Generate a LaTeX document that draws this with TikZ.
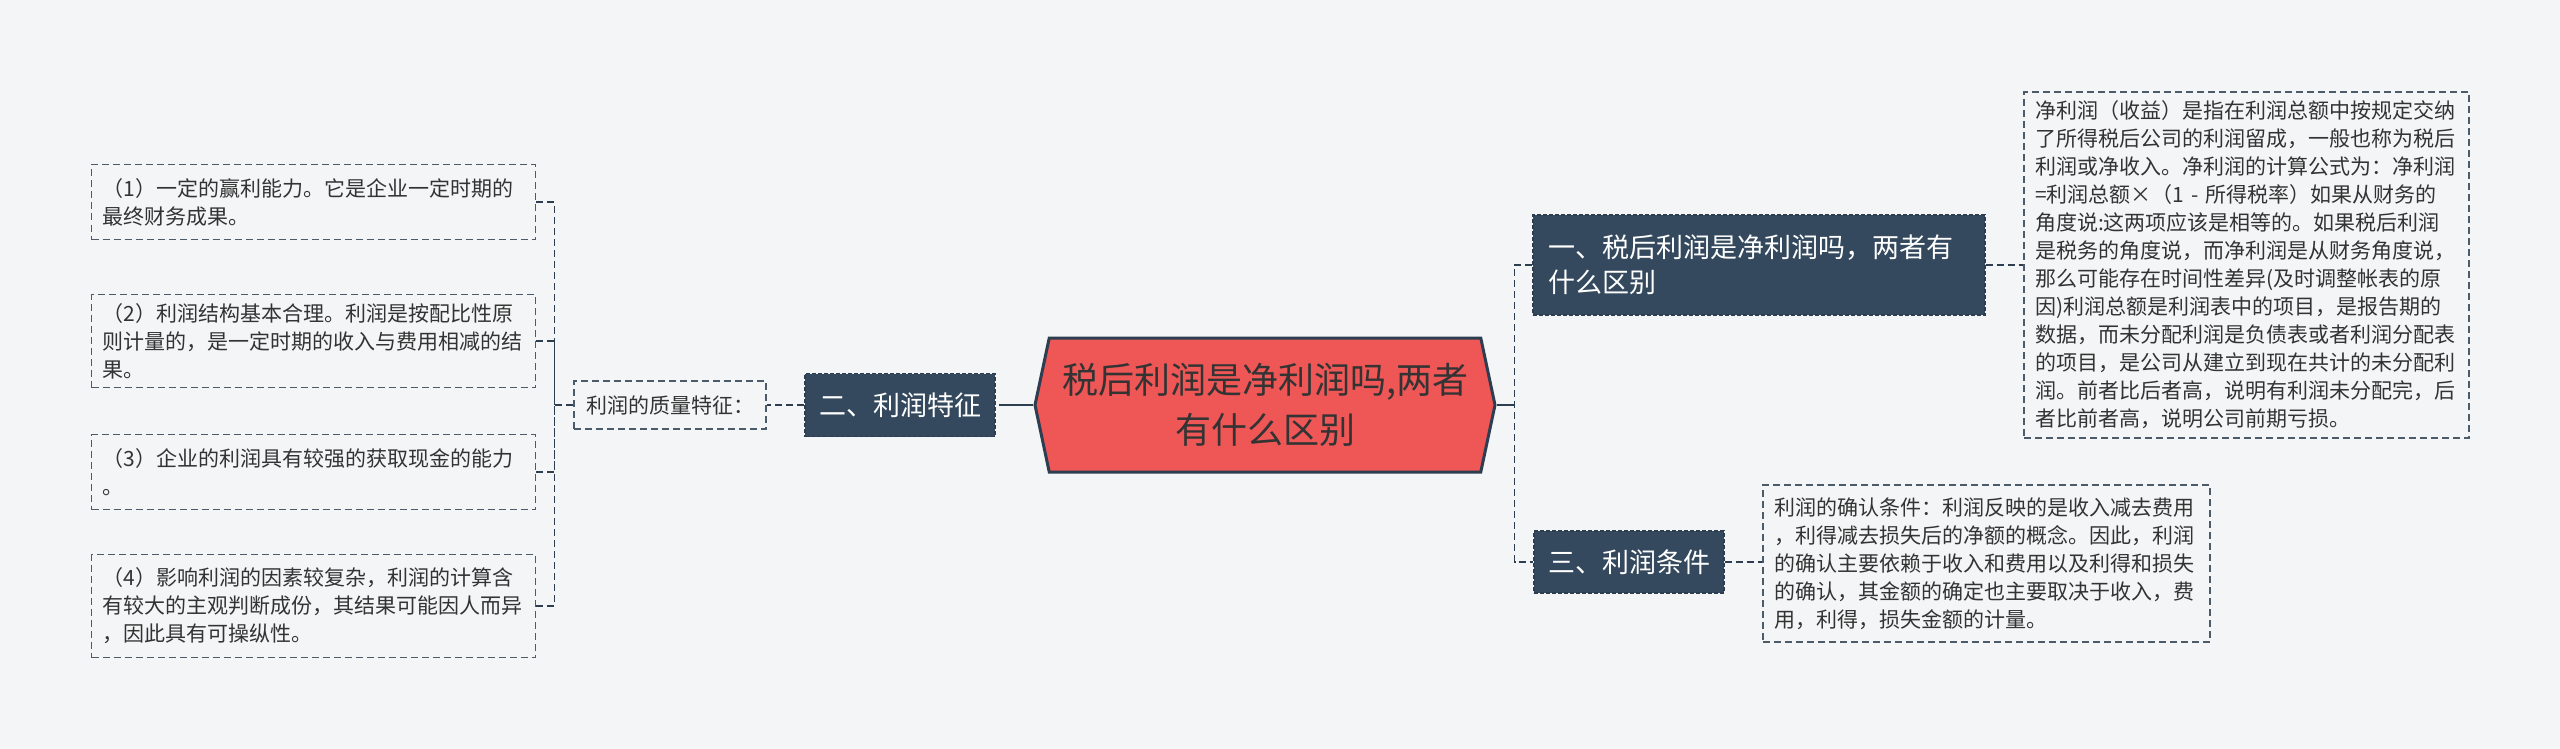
\documentclass[tikz,border=0pt]{standalone}
\usepackage{fontspec}
\setmainfont{Noto Sans CJK SC}
\usetikzlibrary{shapes.symbols}
\definecolor{bgcol}{HTML}{F4F5F6}
\definecolor{rootred}{HTML}{EF5656}
\definecolor{slate}{HTML}{34495E}
\definecolor{edge}{HTML}{2D3E50}
\definecolor{inkgray}{HTML}{333333}

\begin{document}
\begin{tikzpicture}[x=0.5pt, y=-0.5pt,
  rootnode/.style={shape=signal, signal to=west and east, signal pointer angle=156,
    fill=rootred, draw=edge, line width=1.5pt, minimum width=230pt, minimum height=67pt,
    align=center, text=inkgray, font=\fontsize{18}{25}\selectfont},
  branch/.style={fill=slate, draw=edge, dash pattern=on 2pt off 1pt, line width=0.6pt,
    text=white, font=\fontsize{13.5}{17.5}\selectfont, inner sep=0pt},
  leaf/.style={draw=edge!85, dash pattern=on 3.5pt off 2pt, line width=0.7pt, align=left,
    text=inkgray, font=\fontsize{10.5}{14}\selectfont, inner xsep=5.5pt, inner ysep=0pt},
  link/.style={draw=edge, line width=1.2pt},
  dlink/.style={draw=edge, line width=0.8pt, dash pattern=on 3.5pt off 2pt}
]
\fill[bgcol] (0,0) rectangle (2560,749);

% ---------- Root ----------
\node[rootnode] (root) at (1265,405) {税后利润是净利润吗,两者\\有什么区别};

% ---------- Sections ----------
\node[branch, align=left, text width=211pt, inner xsep=7.5pt, minimum height=50pt] (sec1) at (1759,265)
  {一、税后利润是净利润吗，两者有\\什么区别};
\node[branch, minimum width=95pt, minimum height=31.5pt] (sec2) at (900,405) {二、利润特征};
\node[branch, minimum width=95pt, minimum height=31pt] (sec3) at (1629,562) {三、利润条件};

% ---------- Left leaves ----------
\node[leaf, inner xsep=0pt, minimum width=96pt, minimum height=24pt] (qual) at (670,405) {利润的质量特征：};
\node[leaf, text width=211pt, minimum height=37.5pt] (feat1) at (313.5,202)
  {（1）一定的赢利能力。它是企业一定时期的\\最终财务成果。};
\node[leaf, text width=211pt, minimum height=46.5pt] (feat2) at (313.5,341)
  {（2）利润结构基本合理。利润是按配比性原\\则计量的，是一定时期的收入与费用相减的结\\果。};
\node[leaf, text width=211pt, minimum height=37.5pt] (feat3) at (313.5,472)
  {（3）企业的利润具有较强的获取现金的能力\\。};
\node[leaf, text width=211pt, minimum height=51.5pt] (feat4) at (313.5,606)
  {（4）影响利润的因素较复杂，利润的计算含\\有较大的主观判断成份，其结果可能因人而异\\，因此具有可操纵性。};

% ---------- Right leaves ----------
\node[leaf, text width=211.5pt, minimum height=173pt] (net) at (2246.5,265)
  {净利润（收益）是指在利润总额中按规定交纳\\了所得税后公司的利润留成，一般也称为税后\\利润或净收入。净利润的计算公式为：净利润\\=利润总额×（1 - 所得税率）如果从财务的\\角度说:这两项应该是相等的。如果税后利润\\是税务的角度说，而净利润是从财务角度说，\\那么可能存在时间性差异(及时调整帐表的原\\因)利润总额是利润表中的项目，是报告期的\\数据，而未分配利润是负债表或者利润分配表\\的项目，是公司从建立到现在共计的未分配利\\润。前者比后者高，说明有利润未分配完，后\\者比前者高，说明公司前期亏损。};
\node[leaf, text width=212.5pt, minimum height=78.5pt] (cond) at (1986.5,563.5)
  {利润的确认条件：利润反映的是收入减去费用\\，利得减去损失后的净额的概念。因此，利润\\的确认主要依赖于收入和费用以及利得和损失\\的确认，其金额的确定也主要取决于收入，费\\用，利得，损失金额的计量。};

% ---------- Connectors ----------
\coordinate (lstub) at ([xshift=-13.5pt]root.west);
\coordinate (rstub) at ([xshift=9pt]root.east);
\coordinate (ltrunk) at ([xshift=-9.5pt]qual.west);
\draw[link] (root.west) -- (lstub);
\draw[dlink] (lstub) -- (sec2.east);
\draw[link] (root.east) -- (rstub);
\draw[dlink] (sec1.west) -| (rstub) |- (sec3.west);
\draw[dlink] (sec1.east) -- (net.west);
\draw[dlink] (sec3.east) -- (sec3.east -| cond.west);
\draw[dlink] (sec2.west) -- (qual.east);
\draw[dlink] (qual.west) -- (ltrunk);
\foreach \i in {1,...,4}
  \draw[dlink] (feat\i.east) -| (ltrunk);
\end{tikzpicture}
\end{document}
